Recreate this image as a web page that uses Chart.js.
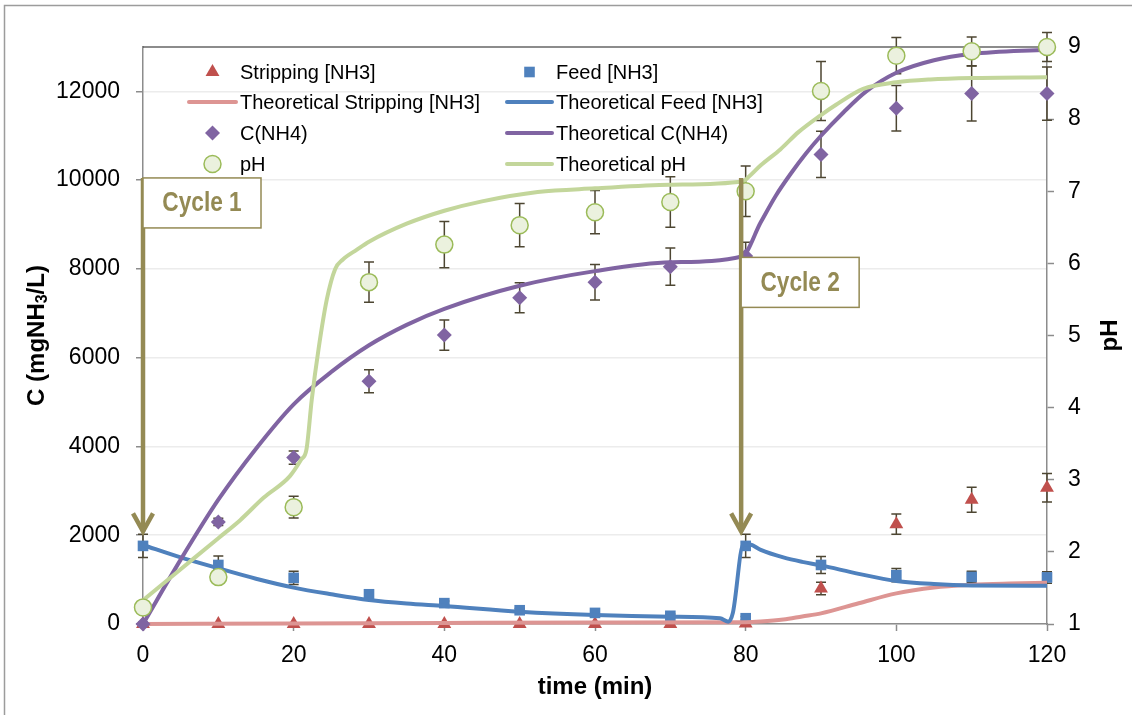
<!DOCTYPE html>
<html>
<head>
<meta charset="utf-8">
<script src="https://cdn.jsdelivr.net/npm/chart.js@4.4.1/dist/chart.umd.min.js"></script>
<style>
  html, body { margin: 0; padding: 0; background: #fff; }
  #wrap { width: 1132px; height: 715px; }
</style>
</head>
<body>
<div id="wrap"><canvas id="nh3Chart" width="1132" height="715"></canvas></div>
<script>
const FONT = "'Liberation Sans', Arial, sans-serif";
const AXIS = '#8c8c8c';
const OLIVE = '#948A54';

// measured samples (time in min)
const sampleTimes = [0, 10, 20, 30, 40, 50, 60, 70, 80, 90, 100, 110, 120];
const strippingNH3 = [0, 0, 0, 0, 0, 0, 0, 0, 10, 800, 2250, 2800, 3070];
const strippingErr = [0, 0, 0, 0, 0, 0, 0, 0, 0, 140, 230, 280, 320];

const feedTimes = [0, 10, 20, 30, 40, 50, 60, 70, 80, 80, 90, 100, 110, 120];
const feedNH3 = [1760, 1330, 1040, 670, 470, 310, 250, 185, 130, 1760, 1330, 1100, 1060, 1050];
const feedErr = [260, 200, 150, 60, 50, 40, 40, 40, 40, 260, 190, 150, 130, 130];

const cNH4 = [0, 2300, 3750, 5470, 6510, 7350, 7700, 8050, 8290, 10580, 11620, 11950, 11950];
const cNH4Err = [40, 80, 150, 260, 340, 340, 400, 420, 310, 520, 510, 620, 600];

const pH = [1.23, 1.65, 2.62, 5.74, 6.26, 6.53, 6.71, 6.85, 7.0, 8.39, 8.88, 8.94, 9.0];
const pHErr = [0, 0, 0.15, 0.28, 0.32, 0.3, 0.3, 0.35, 0.35, 0.41, 0.25, 0.2, 0.2];

// model curves
const theoStripT = [0, 20, 40, 60, 80, 82, 85, 87.5, 90, 95, 100, 105, 110, 115, 120];
const theoStrip = [0, 10, 25, 35, 40, 55, 100, 170, 240, 467, 690, 820, 880, 910, 930];

const theoFeedT = [0, 5, 10, 15, 20, 25, 30, 35, 40, 50, 60, 70, 76.6, 77.7, 78.3, 79.7, 80.6, 82, 85, 87.5, 90, 95, 100, 105, 110, 120];
const theoFeed = [1780, 1500, 1255, 1020, 820, 670, 540, 460, 406, 278, 203, 165, 128, 52, 250, 1800, 1790, 1670, 1500, 1400, 1320, 1130, 970, 900, 868, 860];

const theoCT = [0, 5, 10, 15, 20, 25, 30, 35, 40, 50, 60, 70, 79.5, 82, 84, 86, 88, 90, 93, 96, 100, 105, 110, 120];
const theoC = [0, 1450, 2800, 3950, 4950, 5680, 6280, 6740, 7100, 7620, 7950, 8150, 8280, 9050, 9650, 10150, 10600, 11000, 11530, 12000, 12420, 12700, 12840, 12940];

const theoPHT = [0, 5, 10, 12.9, 16, 19.5, 21, 21.7, 22.4, 23.3, 24.4, 25.5, 26.5, 28.4, 30, 35, 40, 45, 52.4, 60, 70, 79.7, 80.3, 82, 84.6, 87, 89.9, 92, 95.6, 100, 104.5, 110, 120];
const theoPH = [1.33, 1.76, 2.19, 2.44, 2.75, 3.05, 3.28, 3.42, 4.11, 4.81, 5.5, 5.92, 6.05, 6.19, 6.3, 6.55, 6.73, 6.86, 6.99, 7.04, 7.09, 7.14, 7.19, 7.36, 7.58, 7.82, 8.05, 8.2, 8.42, 8.51, 8.55, 8.57, 8.58];

// axis ticks
const timeTicks = [0, 20, 40, 60, 80, 100, 120];
const concTicks = [0, 2000, 4000, 6000, 8000, 10000, 12000];
const pHTicks = [1, 2, 3, 4, 5, 6, 7, 8, 9];

// cycle markers: time, arrow top / tip, box top (mg/L)
const cycles = [
  { label: 'Cycle 1', t: 0, top: 10050, tip: 2040, boxTop: 10050 },
  { label: 'Cycle 2', t: 79.4, top: 10050, tip: 2040, boxTop: 8260 }
];

const pts = (xs, ys) => xs.map((x, i) => ({ x: x, y: ys[i] }));

function drawMarker(ctx, style, x, y, r, fill, stroke, lw) {
  ctx.beginPath();
  if (style === 'triangle') {
    ctx.moveTo(x, y - r);
    ctx.lineTo(x + r * 0.866, y + r / 2);
    ctx.lineTo(x - r * 0.866, y + r / 2);
  } else if (style === 'rect') {
    const s = r * Math.SQRT1_2;
    ctx.rect(x - s, y - s, 2 * s, 2 * s);
  } else if (style === 'rectRot') {
    ctx.moveTo(x, y - r); ctx.lineTo(x + r, y); ctx.lineTo(x, y + r); ctx.lineTo(x - r, y);
  } else {
    ctx.arc(x, y, r, 0, Math.PI * 2);
  }
  ctx.closePath();
  ctx.fillStyle = fill;
  ctx.fill();
  if (lw) { ctx.strokeStyle = stroke; ctx.lineWidth = lw; ctx.stroke(); }
}

const markerSet = (label, xs, ys, errs, style, r, fill, stroke, lw, axis, order) => ({
  label: label, data: pts(xs, ys), errors: errs, yAxisID: axis, order: order,
  showLine: false, clip: false,
  pointStyle: style, pointRadius: r, pointHoverRadius: r,
  pointBackgroundColor: fill, pointBorderColor: stroke, pointBorderWidth: lw
});

const lineSet = (label, xs, ys, color, axis, order) => ({
  label: label, data: pts(xs, ys), yAxisID: axis, order: order,
  showLine: true, pointRadius: 0, borderColor: color, backgroundColor: color,
  borderWidth: 4, cubicInterpolationMode: 'monotone', clip: false
});

const datasets = [
  markerSet('Stripping [NH3]', sampleTimes, strippingNH3, strippingErr, 'triangle', 8, '#C0504D', '#C0504D', 0, 'y', 8),
  markerSet('Feed [NH3]', feedTimes, feedNH3, feedErr, 'rect', 7.5, '#4F81BD', '#4F81BD', 0, 'y', 7),
  lineSet('Theoretical Stripping [NH3]', theoStripT, theoStrip, '#DD9593', 'y', 6),
  lineSet('Theoretical Feed [NH3]', theoFeedT, theoFeed, '#4F81BD', 'y', 5),
  markerSet('C(NH4)', sampleTimes, cNH4, cNH4Err, 'rectRot', 7.5, '#8064A2', '#8064A2', 0, 'y', 4),
  lineSet('Theoretical C(NH4)', theoCT, theoC, '#8064A2', 'y', 3),
  markerSet('pH', sampleTimes, pH, pHErr, 'circle', 8.5, '#EBF1DE', '#9BBB59', 1.5, 'y2', 1),
  lineSet('Theoretical pH', theoPHT, theoPH, '#C3D69B', 'y2', 2)
];

const frame = {
  id: 'frame',
  beforeDraw(chart) {
    const ctx = chart.ctx;
    ctx.save();
    ctx.fillStyle = '#fff';
    ctx.fillRect(0, 0, chart.width, chart.height);
    ctx.strokeStyle = '#9c9c9c';
    ctx.lineWidth = 1.5;
    ctx.beginPath();
    ctx.moveTo(4.5, chart.height);
    ctx.lineTo(4.5, 5.5);
    ctx.lineTo(chart.width, 5.5);
    ctx.stroke();
    ctx.restore();
  },
  beforeDatasetsDraw(chart) {
    const a = chart.chartArea, ctx = chart.ctx;
    ctx.save();
    ctx.strokeStyle = '#1a1a1a';
    ctx.lineWidth = 1.2;
    ctx.beginPath();
    ctx.moveTo(a.left, a.top);
    ctx.lineTo(a.right, a.top);
    ctx.stroke();
    ctx.restore();
  }
};

const errorBars = {
  id: 'errorBars',
  beforeDatasetsDraw(chart) {
    const ctx = chart.ctx, xs = chart.scales.x;
    ctx.save();
    ctx.strokeStyle = '#4d4632';
    ctx.lineWidth = 1.5;
    chart.data.datasets.forEach(ds => {
      if (!ds.errors) return;
      const ys = chart.scales[ds.yAxisID];
      ds.data.forEach((p, j) => {
        const e = ds.errors[j];
        if (!e) return;
        const x = xs.getPixelForValue(p.x);
        const y1 = ys.getPixelForValue(p.y + e), y2 = ys.getPixelForValue(p.y - e);
        ctx.beginPath();
        ctx.moveTo(x, y1); ctx.lineTo(x, y2);
        ctx.moveTo(x - 5, y1); ctx.lineTo(x + 5, y1);
        ctx.moveTo(x - 5, y2); ctx.lineTo(x + 5, y2);
        ctx.stroke();
      });
    });
    ctx.restore();
  }
};

const cycleMarks = {
  id: 'cycleMarks',
  afterDatasetsDraw(chart) {
    const ctx = chart.ctx, xs = chart.scales.x, ys = chart.scales.y;
    ctx.save();
    cycles.forEach(c => {
      const x = xs.getPixelForValue(c.t);
      const yTop = ys.getPixelForValue(c.top), yTip = ys.getPixelForValue(c.tip);
      ctx.strokeStyle = OLIVE;
      ctx.lineWidth = 4.5;
      ctx.lineJoin = 'miter';
      ctx.beginPath();
      ctx.moveTo(x, yTop);
      ctx.lineTo(x, yTip - 2);
      ctx.stroke();
      ctx.beginPath();
      ctx.moveTo(x - 10, yTip - 20);
      ctx.lineTo(x, yTip - 2);
      ctx.lineTo(x + 10, yTip - 20);
      ctx.stroke();

      const bx = x, by = ys.getPixelForValue(c.boxTop), bw = 118, bh = 50;
      ctx.fillStyle = '#fff';
      ctx.fillRect(bx, by, bw, bh);
      ctx.lineWidth = 1.5;
      ctx.strokeRect(bx, by, bw, bh);
      ctx.save();
      ctx.translate(bx + bw / 2, by + bh / 2 + 1);
      ctx.scale(0.84, 1);
      ctx.fillStyle = OLIVE;
      ctx.font = 'bold 27px ' + FONT;
      ctx.textAlign = 'center';
      ctx.textBaseline = 'middle';
      ctx.fillText(c.label, 0, 0);
      ctx.restore();
    });
    ctx.restore();
  }
};

const sideTitles = {
  id: 'sideTitles',
  afterDraw(chart) {
    const ctx = chart.ctx, a = chart.chartArea;
    const cy = (a.top + a.bottom) / 2;
    ctx.save();
    ctx.fillStyle = '#000';
    ctx.textBaseline = 'middle';
    // left title with subscript
    const big = 'bold 24px ' + FONT, small = 'bold 16px ' + FONT;
    const parts = [['C (mgNH', big, 0], ['3', small, 6], ['/L)', big, 0]];
    let total = 0;
    parts.forEach(p => { ctx.font = p[1]; total += ctx.measureText(p[0]).width; });
    ctx.save();
    ctx.translate(37, cy);
    ctx.rotate(-Math.PI / 2);
    let x = -total / 2;
    parts.forEach(p => {
      ctx.font = p[1];
      ctx.textAlign = 'left';
      ctx.fillText(p[0], x, p[2]);
      x += ctx.measureText(p[0]).width;
    });
    ctx.restore();
    // right title
    ctx.save();
    ctx.translate(1110, cy);
    ctx.rotate(-Math.PI / 2);
    ctx.font = big;
    ctx.textAlign = 'center';
    ctx.fillText('pH', 0, 0);
    ctx.restore();
    ctx.restore();
  }
};

// two-column legend, slots in dataset order
const legendCols = [{ line: [189, 236], text: 240 }, { line: [507, 552], text: 556 }];
const legendRows = [72, 102, 133, 164];
const gridLegend = {
  id: 'gridLegend',
  afterDraw(chart) {
    const ctx = chart.ctx;
    ctx.save();
    ctx.font = '20px ' + FONT;
    ctx.textBaseline = 'middle';
    ctx.textAlign = 'left';
    chart.data.datasets.forEach((ds, i) => {
      const col = legendCols[i % 2], y = legendRows[Math.floor(i / 2)];
      const mx = (col.line[0] + col.line[1]) / 2;
      if (ds.showLine) {
        ctx.strokeStyle = ds.borderColor;
        ctx.lineWidth = 4;
        ctx.lineCap = 'round';
        ctx.beginPath();
        ctx.moveTo(col.line[0], y);
        ctx.lineTo(col.line[1], y);
        ctx.stroke();
      } else {
        drawMarker(ctx, ds.pointStyle, mx, y, ds.pointRadius, ds.pointBackgroundColor, ds.pointBorderColor, ds.pointBorderWidth);
      }
      ctx.fillStyle = '#000';
      ctx.fillText(ds.label, col.text, y + 1);
    });
    ctx.restore();
  }
};

const tickFont = { family: FONT, size: 23 };
const plainLabel = v => String(v);

new Chart(document.getElementById('nh3Chart'), {
  type: 'scatter',
  data: { datasets: datasets },
  plugins: [frame, errorBars, cycleMarks, sideTitles, gridLegend],
  options: {
    responsive: false,
    animation: false,
    layout: { padding: { top: 47, left: 19, right: 4, bottom: 9 } },
    plugins: { legend: { display: false }, tooltip: { enabled: false } },
    scales: {
      x: {
        type: 'linear', min: 0, max: 120,
        afterBuildTicks: s => { s.ticks = timeTicks.map(v => ({ value: v })); },
        afterFit: s => { s.height = 82; },
        grid: { drawOnChartArea: false, tickLength: 7, tickColor: AXIS, tickWidth: 1.5 },
        border: { color: AXIS, width: 1.5 },
        ticks: { padding: 11, color: '#000', font: tickFont, maxRotation: 0, callback: plainLabel },
        title: { display: true, text: 'time (min)', color: '#000', font: { family: FONT, size: 24, weight: 'bold' }, padding: { top: 0, bottom: 4 } }
      },
      y: {
        type: 'linear', position: 'left', min: 0, max: 13000,
        afterBuildTicks: s => { s.ticks = concTicks.map(v => ({ value: v })); },
        afterFit: s => { s.width = 124; },
        grid: { color: '#ececec', lineWidth: 1.5, tickLength: 7, tickColor: AXIS, tickWidth: 1.5 },
        border: { color: AXIS, width: 1.5 },
        ticks: { padding: 16, color: '#000', font: tickFont, callback: plainLabel }
      },
      y2: {
        type: 'linear', position: 'right', min: 1, max: 9,
        afterBuildTicks: s => { s.ticks = pHTicks.map(v => ({ value: v })); },
        afterFit: s => { s.width = 81; },
        grid: { drawOnChartArea: false, tickLength: 7, tickColor: AXIS, tickWidth: 1.5 },
        border: { color: AXIS, width: 1.5 },
        ticks: { padding: 14, color: '#000', font: tickFont, callback: plainLabel }
      }
    }
  }
});
</script>
</body>
</html>
